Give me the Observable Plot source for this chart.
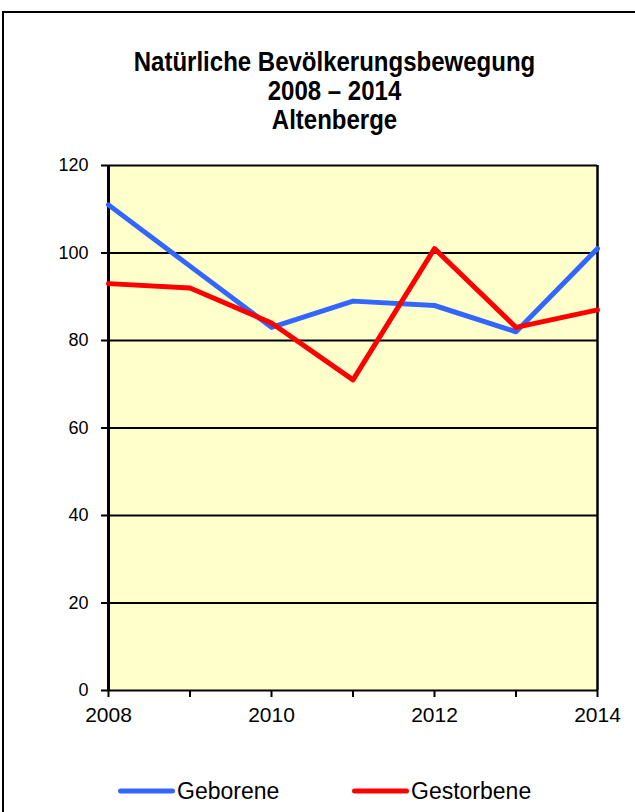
<!DOCTYPE html>
<html><head><meta charset="utf-8">
<script src="https://cdn.jsdelivr.net/npm/d3@7"></script>
<script src="https://cdn.jsdelivr.net/npm/@observablehq/plot@0.6"></script>
<style>
html,body{margin:0;padding:0;overflow:hidden;background:#fff;}
#wrap{position:relative;width:635px;height:812px;overflow:hidden;font-family:"Liberation Sans",Arial,sans-serif;color:#000;}
#frame{position:absolute;left:2px;top:11px;width:700px;height:900px;border:2px solid #000;}
#title{position:absolute;left:17px;width:635px;top:47px;text-align:center;font-weight:bold;font-size:24px;line-height:25px;transform:scaleY(1.15);transform-origin:top center;}
#chart{position:absolute;left:0;top:150px;}
#legend{position:absolute;left:0;top:773px;width:635px;height:36px;}
.item{position:absolute;top:0;height:36px;display:flex;align-items:center;font-size:23px;}
.item svg{margin-right:2px;}
</style>
</head><body>
<div id="wrap">
  <div id="frame"></div>
  <div id="title">Natürliche Bevölkerungsbewegung<br>2008 – 2014<br>Altenberge</div>
  <div id="chart"></div>
  <div id="legend"></div>
</div>
<script>
const years = [2008, 2009, 2010, 2011, 2012, 2013, 2014];
const geborene = [111, 97, 83, 89, 88, 82, 101];
const gestorbene = [93, 92, 84, 71, 101, 83, 87];
const seriesNames = ["Geborene", "Gestorbene"];
const seriesColors = ["#3366FF", "#FF0000"];
const yTicks = [0, 20, 40, 60, 80, 100, 120];
const xLabelYears = [2008, 2010, 2012, 2014];

const data = [];
years.forEach((yr, i) => {
  data.push({year: yr, value: geborene[i], series: seriesNames[0]});
});
years.forEach((yr, i) => {
  data.push({year: yr, value: gestorbene[i], series: seriesNames[1]});
});

const chart = Plot.plot({
  width: 635,
  height: 590,
  marginLeft: 108,
  marginRight: 38,
  marginTop: 15,
  marginBottom: 50,
  x: {domain: [2008, 2014]},
  y: {domain: [0, 120]},
  color: {domain: seriesNames, range: seriesColors},
  style: {fontFamily: '"Liberation Sans", Arial, sans-serif', fontSize: "21px", color: "#000", background: "transparent", overflow: "visible"},
  marks: [
    Plot.frame({fill: "#FFFFCC", stroke: null}),
    Plot.ruleY(yTicks, {stroke: "#000", strokeWidth: 2}),
    Plot.ruleX([2008], {stroke: "#000", strokeWidth: 3}),
    Plot.ruleX([2014], {stroke: "#000", strokeWidth: 2.5}),
    Plot.axisY({ticks: yTicks, tickSize: 7, tickPadding: 13, stroke: "#000", strokeWidth: 2, strokeOpacity: 1, label: null, fontSize: 18}),
    Plot.axisX({ticks: years, tickSize: 7, tickPadding: 10, stroke: "#000", strokeWidth: 2, strokeOpacity: 1, label: null, fontSize: 21,
      tickFormat: d => xLabelYears.includes(d) ? String(d) : ""}),
    Plot.line(data, {x: "year", y: "value", stroke: "series", strokeWidth: 5, z: "series"})
  ]
});
document.getElementById("chart").appendChild(chart);

// legend
const legend = d3.select("#legend");
const legendX = [118, 352];
seriesNames.forEach((name, i) => {
  const item = legend.append("div").attr("class", "item").style("left", legendX[i] + "px");
  const s = item.append("svg").attr("width", 57).attr("height", 10);
  s.append("line").attr("x1", 2.5).attr("x2", 54.5).attr("y1", 5).attr("y2", 5)
    .attr("stroke", seriesColors[i]).attr("stroke-width", 5).attr("stroke-linecap", "round");
  item.append("span").text(name);
});
</script>
</body></html>
